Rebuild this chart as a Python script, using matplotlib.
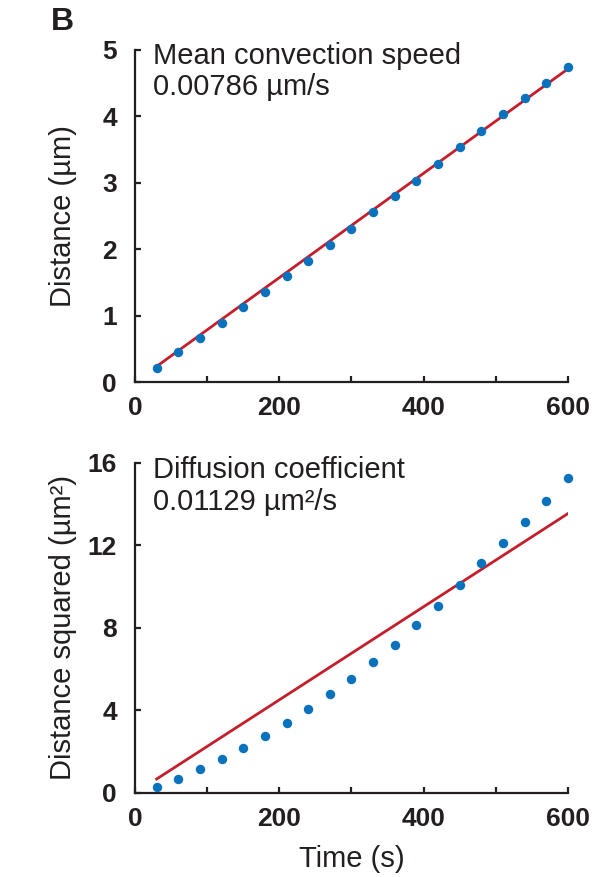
import numpy as np
import matplotlib
matplotlib.use('Agg')
import matplotlib.pyplot as plt

plt.rcParams['font.family'] = ['Liberation Sans', 'DejaVu Sans']

# data
time_s = [30, 60, 90, 120, 150, 180, 210, 240, 270, 300,
          330, 360, 390, 420, 450, 480, 510, 540, 570, 600]
distance = [0.21, 0.45, 0.66, 0.89, 1.13, 1.35, 1.60, 1.82, 2.06, 2.31,
            2.56, 2.80, 3.03, 3.28, 3.54, 3.78, 4.03, 4.27, 4.51, 4.75]
distance_sq = [0.31, 0.69, 1.16, 1.66, 2.16, 2.76, 3.41, 4.07, 4.80, 5.53,
               6.35, 7.19, 8.16, 9.08, 10.10, 11.13, 12.13, 13.15, 14.18, 15.27]

speed = 0.00786
diff_coef = 0.01129

ink = '#231f20'
blue = '#0a72bd'
red = '#c41e2c'

fig = plt.figure(figsize=(5.94, 8.77), dpi=100)
ax1 = fig.add_axes([0.2273, 0.5644, 0.7289, 0.3786])
ax2 = fig.add_axes([0.2273, 0.0958, 0.7289, 0.3763])

t = np.array(time_s)
fits = [speed * t, 2 * diff_coef * t]

for ax, ys, fit in zip([ax1, ax2], [distance, distance_sq], fits):
    ax.plot(t, fit, color=red, lw=2, zorder=2)
    ax.plot(t, ys, 'o', color=blue, ms=6.8, mec='none', zorder=3, clip_on=False)
    ax.set_xlim(0, 600)
    ax.set_xticks([0, 200, 400, 600])
    ax.set_xticks([100, 300, 500], minor=True)
    for s in ['top', 'right']:
        ax.spines[s].set_visible(False)
    for s in ['left', 'bottom']:
        ax.spines[s].set_color(ink)
        ax.spines[s].set_linewidth(1.6)
    ax.tick_params(which='both', direction='in', length=4.5, width=1.6, color=ink)
    ax.tick_params(axis='y', pad=13, labelsize=19, labelcolor=ink)
    ax.tick_params(axis='x', pad=10, labelsize=19, labelcolor=ink)

ax1.set_ylim(0, 5)
ax1.set_yticks([0, 1, 2, 3, 4, 5])
ax2.set_ylim(0, 16)
ax2.set_yticks([0, 4, 8, 12, 16])
for ax in [ax1, ax2]:
    for lab in ax.get_xticklabels() + ax.get_yticklabels():
        lab.set_fontweight('bold')

ax1.set_ylabel('Distance (µm)', fontsize=21, color=ink)
ax2.set_ylabel('Distance squared (µm²)', fontsize=21, color=ink)
ax1.yaxis.set_label_coords(-0.135, 0.5)
ax2.yaxis.set_label_coords(-0.135, 0.5)
ax2.set_xlabel('Time (s)', fontsize=21, color=ink, labelpad=10)

ax1.text(0.042, 1.025, 'Mean convection speed\n0.00786 µm/s', transform=ax1.transAxes,
         fontsize=21, color=ink, va='top', ha='left', linespacing=1.15)
ax2.text(0.042, 1.02, 'Diffusion coefficient\n0.01129 µm²/s', transform=ax2.transAxes,
         fontsize=21, color=ink, va='top', ha='left', linespacing=1.15)

fig.text(0.105, 0.975, 'B', fontsize=23, fontweight='bold', color=ink, ha='center', va='center')

fig.savefig('out.png', dpi=100)
